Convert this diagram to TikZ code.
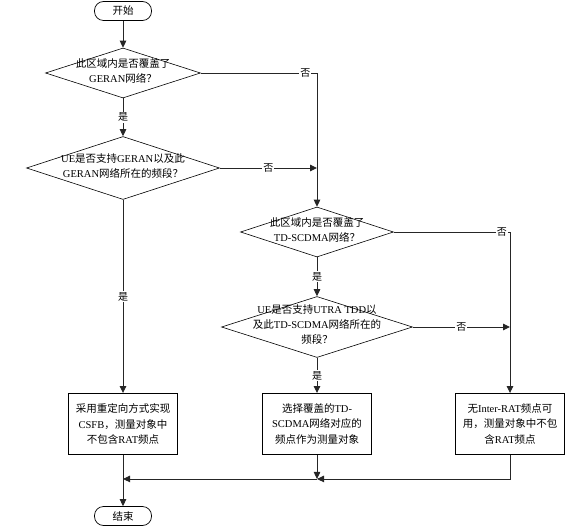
\documentclass[tikz,border=0pt]{standalone}
\usepackage{fontspec}
\setmainfont{Liberation Serif}
\newfontfamily\zhfont{Noto Sans CJK SC}
\usetikzlibrary{shapes.geometric, arrows.meta, positioning, calc}
\newcommand{\zh}[1]{{\zhfont #1}}
\newcommand{\dtext}[1]{\smash{\makebox[0pt]{\raisebox{-1.5pt}{\begin{tabular}{@{}c@{}}#1\end{tabular}}}}}
\tikzset{
  flowline/.style={draw=black!85, line width=0.9pt},
  flowarrow/.style={flowline, -{Triangle[length=7pt,width=6.5pt]}},
  terminal/.style={draw, line width=0.7pt, rounded corners=9pt, minimum width=57pt, minimum height=19pt, inner sep=0pt, font=\fontsize{10.5}{12}\selectfont},
  decision/.style={diamond, draw, line width=0.6pt, inner sep=0pt, font=\fontsize{10.5}{15}\selectfont},
  process/.style={rectangle, draw, line width=0.9pt, minimum width=109pt, minimum height=61pt, text width=104pt, align=center, inner sep=0pt, font=\fontsize{10.5}{15.5}\selectfont},
  answer/.style={fill=white, inner sep=1pt, font=\fontsize{10}{10}\selectfont},
}

\begin{document}
\begin{tikzpicture}[x=1pt, y=-1pt]
  \useasboundingbox (0,0) rectangle (580,529);

  % Start and GERAN checks
  \node[terminal] (start) at (123,11) {\zh{开始}};
  \node[decision, minimum width=155pt, minimum height=50pt] (geran) at (123,73)
    {\dtext{\zh{此区域内是否覆盖了}\\GERAN\zh{网络？}}};
  \node[decision, minimum width=193pt, minimum height=63pt] (ueger) at (123,168)
    {\dtext{UE\zh{是否支持}GERAN\zh{以及此}\\GERAN\zh{网络所在的频段？}}};

  % TD-SCDMA checks
  \node[decision, minimum width=153pt, minimum height=50pt] (tds) at (317,232)
    {\dtext{\zh{此区域内是否覆盖了}\\TD-SCDMA\zh{网络？}}};
  \node[decision, minimum width=191pt, minimum height=61pt] (ueutra) at (317,327)
    {\dtext{UE\zh{是否支持}UTRA TDD\zh{以}\\\zh{及此}TD-SCDMA\zh{网络所在的}\\\zh{频段？}}};

  % Outcomes
  \node[process] (redir) at (123,424) {\zh{采用重定向方式实现}\\CSFB\zh{，测量对象中}\\\zh{不包含}RAT\zh{频点}};
  \node[process] (tdsel) at (317,424) {\zh{选择覆盖的}TD-\\SCDMA\zh{网络对应的}\\\zh{频点作为测量对象}};
  \node[process] (noirat) at (510,424) {\zh{无}Inter-RAT\zh{频点可}\\\zh{用，测量对象中不包}\\\zh{含}RAT\zh{频点}};
  \node[terminal] (stop) at (123,516) {\zh{结束}};

  % Connectors
  \draw[flowarrow] (start.south) -- (geran.north);
  \draw[flowarrow] (geran.south) -- node[answer]{\zh{是}} (ueger.north);
  \draw[flowarrow] (geran.east) -| node[answer, pos=0.45]{\zh{否}} (tds.north);
  \coordinate (j1) at (tds.north |- ueger.east);
  \draw[flowarrow] (ueger.east) -- node[answer]{\zh{否}} (j1);
  \draw[flowarrow] (ueger.south) -- node[answer]{\zh{是}} (redir.north);

  \draw[flowarrow] (tds.east) -| node[answer, pos=0.465]{\zh{否}} (noirat.north);
  \draw[flowarrow] (tds.south) -- node[answer]{\zh{是}} (ueutra.north);
  \coordinate (j2) at (noirat.north |- ueutra.east);
  \draw[flowarrow] (ueutra.east) -- node[answer]{\zh{否}} (j2);
  \draw[flowarrow] (ueutra.south) -- node[answer]{\zh{是}} (tdsel.north);

  % Merge to end
  \coordinate (m2) at ($(tdsel.south)+(0,24)$);
  \coordinate (m1) at (redir.south |- m2);
  \draw[flowarrow] (tdsel.south) -- (m2);
  \draw[flowarrow] (noirat.south) |- (m2);
  \draw[flowarrow] (m2) -- (m1);
  \draw[flowarrow] (redir.south) -- (stop.north);
\end{tikzpicture}
\end{document}
